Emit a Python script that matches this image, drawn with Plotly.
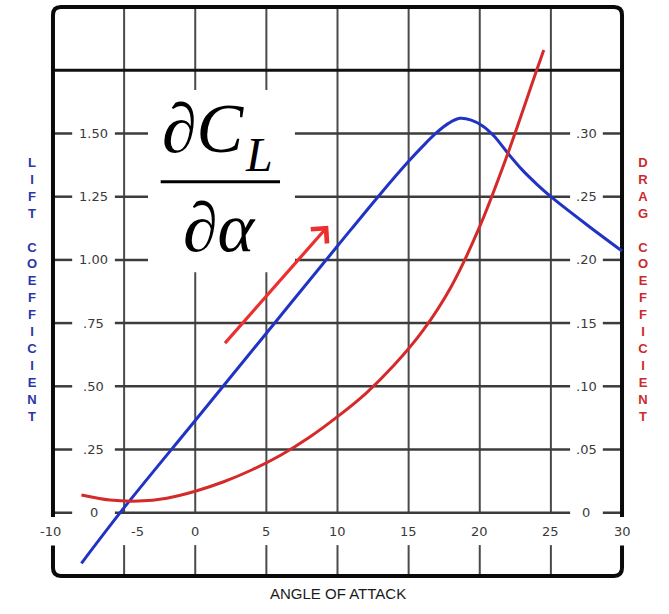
import plotly.graph_objects as go

# Lift coefficient against angle of attack (degrees)
alpha_lift = [-8, -5, 0, 5, 10, 13, 15, 16, 17, 17.8, 18.6, 19.4, 20.2, 21, 22, 23, 24, 25, 27.5, 30]
lift_coef = [-0.20, 0.02, 0.365, 0.71, 1.055, 1.26, 1.39, 1.45, 1.505, 1.54, 1.56, 1.553,
             1.53, 1.49, 1.42, 1.355, 1.30, 1.25, 1.14, 1.035]

# Drag coefficient against angle of attack (degrees)
alpha_drag = [-8, -6, -4, -2, 0, 2, 4, 6, 8, 10, 12, 14, 16, 18, 20, 22, 24, 24.5]
drag_coef = [0.014, 0.010, 0.0092, 0.0115, 0.017, 0.0245, 0.034, 0.0455, 0.0595, 0.076,
             0.0945, 0.117, 0.144, 0.179, 0.2265, 0.285, 0.350, 0.366]

# Tick values and their printed labels
x_ticks = [-10, -5, 0, 5, 10, 15, 20, 25, 30]
x_tick_text = ["-10", "-5", "0", "5", "10", "15", "20", "25", "30"]
lift_ticks = [0, 0.25, 0.50, 0.75, 1.00, 1.25, 1.50]
lift_tick_text = ["0", ".25", ".50", ".75", "1.00", "1.25", "1.50"]
drag_ticks = [0, 0.05, 0.10, 0.15, 0.20, 0.25, 0.30]
drag_tick_text = ["0", ".05", ".10", ".15", ".20", ".25", ".30"]

# Slope arrow along the linear part of the lift curve (tail, head)
arrow_tail = (2.0, 0.665)
arrow_head = (9.35, 1.135)

X_MIN, X_MAX = -10, 30
Y_MIN, Y_MAX = -0.25, 2.0
DRAG_SCALE = 5.0  # lift units per drag unit on the twin axis

BLUE = "#2033c4"
RED = "#d42a2a"
GRID = "#3c3c3c"
TICK_FONT = dict(family="DejaVu Sans", size=13, color="#3a3a3a")

fig = go.Figure()
fig.add_trace(go.Scatter(x=alpha_lift, y=lift_coef, mode="lines",
                         line=dict(color=BLUE, width=3, shape="spline", smoothing=1.0),
                         hoverinfo="skip", showlegend=False))
fig.add_trace(go.Scatter(x=alpha_drag, y=drag_coef, mode="lines", yaxis="y2",
                         line=dict(color=RED, width=3, shape="spline", smoothing=1.0),
                         hoverinfo="skip", showlegend=False))

shapes = []


def seg(x0, y0, x1, y1, color=GRID, width=2.0):
    shapes.append(dict(type="line", xref="x", yref="y", x0=x0, y0=y0, x1=x1, y1=y1,
                       line=dict(color=color, width=width), layer="below"))


# band below the zero line that holds the angle labels
label_band = (-0.128, 0.0)
# horizontal gaps that hold the coefficient labels
left_label_x, left_gap = -7.15, 1.5
right_label_x, right_gap = 27.5, 1.15

for xv in x_ticks[1:-1]:
    seg(xv, Y_MIN, xv, label_band[0], "#4a4a4a", 2.0)
    seg(xv, label_band[1], xv, Y_MAX, "#4a4a4a", 2.0)

for yv in lift_ticks:
    seg(X_MIN, yv, left_label_x - left_gap, yv, GRID, 2.5)
    seg(left_label_x + left_gap, yv, right_label_x - right_gap, yv, GRID, 2.5)
    seg(right_label_x + right_gap, yv, X_MAX, yv, GRID, 2.5)

seg(X_MIN, 1.75, X_MAX, 1.75, "#111111", 3.2)

# rounded outer frame, open where the end labels sit
rx, ry = 0.55, 0.032
gap_top, gap_bot = -0.017, -0.13
top_path = (f"M{X_MIN},{gap_top} L{X_MIN},{Y_MAX - ry} Q{X_MIN},{Y_MAX} {X_MIN + rx},{Y_MAX} "
            f"L{X_MAX - rx},{Y_MAX} Q{X_MAX},{Y_MAX} {X_MAX},{Y_MAX - ry} L{X_MAX},{gap_top}")
bot_path = (f"M{X_MIN},{gap_bot} L{X_MIN},{Y_MIN + ry} Q{X_MIN},{Y_MIN} {X_MIN + rx},{Y_MIN} "
            f"L{X_MAX - rx},{Y_MIN} Q{X_MAX},{Y_MIN} {X_MAX},{Y_MIN + ry} L{X_MAX},{gap_bot}")
for p in (top_path, bot_path):
    shapes.append(dict(type="path", xref="x", yref="y", path=p,
                       line=dict(color="#0a0a0a", width=4), layer="below"))

# white panel behind the derivative expression
shapes.append(dict(type="rect", xref="x", yref="y", x0=-3.32, x1=7.01, y0=0.951, y1=1.672,
                   fillcolor="white", line=dict(width=0), layer="below"))
shapes.append(dict(type="line", xref="x", yref="y", x0=-2.43, x1=5.96, y0=1.309, y1=1.309,
                   line=dict(color="black", width=3), layer="below"))

annotations = []

# angle labels
for xv, txt in zip(x_ticks, x_tick_text):
    shift = 13 if txt == "-5" else (-2 if txt == "-10" else 0)
    annotations.append(dict(x=xv, y=-0.075, xref="x", yref="y", text=txt, showarrow=False,
                            xshift=shift, font=TICK_FONT))

# lift coefficient labels
for yv, txt in zip(lift_ticks, lift_tick_text):
    annotations.append(dict(x=left_label_x, y=yv, xref="x", yref="y", text=txt,
                            showarrow=False, font=TICK_FONT))

# drag coefficient labels on the twin axis
for yv, txt in zip(drag_ticks, drag_tick_text):
    annotations.append(dict(x=right_label_x, y=yv, xref="x", yref="y2", text=txt,
                            showarrow=False, font=TICK_FONT))

# derivative expression dC_L / d(alpha)
serif = "Liberation Serif"
annotations.append(dict(x=0.55, y=1.52, xref="x", yref="y", text="∂<i>C</i>",
                        showarrow=False, font=dict(family=serif, size=70, color="black")))
annotations.append(dict(x=4.45, y=1.415, xref="x", yref="y", text="<i>L</i>",
                        showarrow=False, font=dict(family=serif, size=48, color="black")))
annotations.append(dict(x=1.74, y=1.13, xref="x", yref="y", text="∂<i>α</i>",
                        showarrow=False, font=dict(family=serif, size=70, color="black")))

# slope arrow
annotations.append(dict(x=arrow_head[0], y=arrow_head[1], ax=arrow_tail[0], ay=arrow_tail[1],
                        xref="x", yref="y", axref="x", ayref="y", text="", showarrow=True,
                        arrowhead=4, arrowsize=1.3, arrowwidth=3.2, arrowcolor="#ec3030",
                        standoff=0, startstandoff=0))

# axis titles, one letter per line
lift_title = "<br>".join(list("LIFT") + [" "] + list("COEFFICIENT"))
drag_title = "<br>".join(list("DRAG") + [" "] + list("COEFFICIENT"))
annotations.append(dict(x=-0.0397, y=0.503, xref="paper", yref="paper", text=f"<b>{lift_title}</b>",
                        showarrow=False, font=dict(family="Liberation Sans", size=13, color="#2b35a8")))
annotations.append(dict(x=1.0397, y=0.503, xref="paper", yref="paper", text=f"<b>{drag_title}</b>",
                        showarrow=False, font=dict(family="Liberation Sans", size=13, color="#cc2b2b")))
annotations.append(dict(x=0.5009, y=-0.0397, xref="paper", yref="paper", text="ANGLE OF ATTACK",
                        showarrow=False, font=dict(family="Liberation Sans", size=15, color="#1a1a1a")))

fig.update_layout(
    width=669, height=614,
    margin=dict(l=48, r=42, t=2, b=33),
    paper_bgcolor="white", plot_bgcolor="white",
    xaxis=dict(range=[-10.35, 30.35], visible=False, fixedrange=True),
    yaxis=dict(range=[-0.27, 2.02], visible=False, fixedrange=True),
    yaxis2=dict(range=[-0.27 / DRAG_SCALE, 2.02 / DRAG_SCALE], overlaying="y", side="right",
                visible=False, fixedrange=True),
    shapes=shapes,
    annotations=annotations,
    showlegend=False,
)

fig.write_html("out.html")
